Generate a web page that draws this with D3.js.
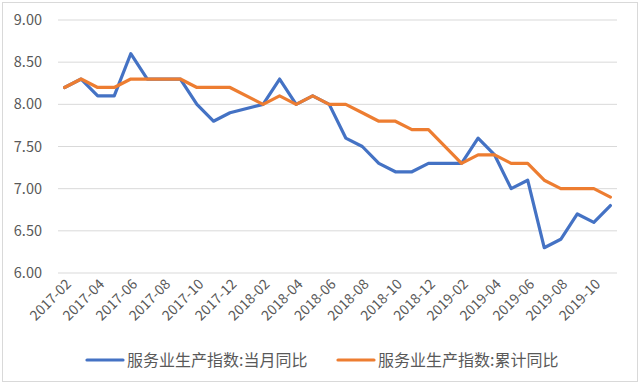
<!DOCTYPE html>
<html>
<head>
<meta charset="utf-8">
<script src="https://cdn.jsdelivr.net/npm/d3@7"></script>
<style>
  body { margin: 0; background: #fff; }
  text { font-family: "Noto Sans CJK SC", "Liberation Sans", sans-serif; fill: #595959; }
</style>
</head>
<body>
<div id="chart"></div>
<script>
// 月份（1月无单独数据，为空）
const months = [
  "2017-02","2017-03","2017-04","2017-05","2017-06","2017-07","2017-08","2017-09","2017-10","2017-11","2017-12",
  "2018-01","2018-02","2018-03","2018-04","2018-05","2018-06","2018-07","2018-08","2018-09","2018-10","2018-11","2018-12",
  "2019-01","2019-02","2019-03","2019-04","2019-05","2019-06","2019-07","2019-08","2019-09","2019-10","2019-11"
];
const monthly = [
  8.2, 8.3, 8.1, 8.1, 8.6, 8.3, 8.3, 8.3, 8.0, 7.8, 7.9,
  null, 8.0, 8.3, 8.0, 8.1, 8.0, 7.6, 7.5, 7.3, 7.2, 7.2, 7.3,
  null, 7.3, 7.6, 7.4, 7.0, 7.1, 6.3, 6.4, 6.7, 6.6, 6.8
];
const cumulative = [
  8.2, 8.3, 8.2, 8.2, 8.3, 8.3, 8.3, 8.3, 8.2, 8.2, 8.2,
  null, 8.0, 8.1, 8.0, 8.1, 8.0, 8.0, 7.9, 7.8, 7.8, 7.7, 7.7,
  null, 7.3, 7.4, 7.4, 7.3, 7.3, 7.1, 7.0, 7.0, 7.0, 6.9
];
const yTicks = [6.0, 6.5, 7.0, 7.5, 8.0, 8.5, 9.0];
const seriesNames = ["服务业生产指数:当月同比", "服务业生产指数:累计同比"];

const W = 640, H = 385;
const margin = { top: 20, right: 23, bottom: 112, left: 58 };
const width = W - margin.left - margin.right;
const height = H - margin.top - margin.bottom;

const colors = ["#4472C4", "#ED7D31"];

const svg = d3.select("#chart").append("svg")
  .attr("width", W).attr("height", H);

// 外框
svg.append("rect")
  .attr("x", 2.5).attr("y", 2.5)
  .attr("width", W - 5).attr("height", H - 6)
  .attr("fill", "#fff").attr("stroke", "#d9d9d9");

const g = svg.append("g").attr("transform", `translate(${margin.left},${margin.top})`);

const x = d3.scalePoint().domain(months).range([0, width]).padding(0.4);
const y = d3.scaleLinear().domain([6, 9]).range([height, 0]);

// 网格线
g.append("g")
  .selectAll("line")
  .data(yTicks)
  .join("line")
    .attr("x1", 0).attr("x2", width)
    .attr("y1", d => y(d)).attr("y2", d => y(d))
    .attr("stroke", "#d9d9d9").attr("stroke-width", 1);

// Y轴
const yAxis = g.append("g")
  .call(d3.axisLeft(y).tickValues(yTicks).tickFormat(d3.format(".2f")).tickSize(0).tickPadding(16));
yAxis.select(".domain").remove();
yAxis.selectAll("text").style("font-size", "14.5px").attr("fill", "#595959");

// X轴
const xAxis = g.append("g")
  .attr("transform", `translate(0,${height})`)
  .call(d3.axisBottom(x).tickValues(months.filter((d, i) => i % 2 === 0)).tickSize(0).tickPadding(0));
xAxis.select(".domain").remove();
xAxis.selectAll("text")
  .style("font-size", "14px")
  .attr("fill", "#595959")
  .attr("text-anchor", "end")
  .attr("dy", 0)
  .attr("transform", "translate(7,12) rotate(-45)");

// 折线
const line = d3.line()
  .x(d => x(d.m))
  .y(d => y(d.v));

[monthly, cumulative].forEach((vals, k) => {
  const pts = months.map((m, i) => ({ m, v: vals[i] })).filter(d => d.v !== null);
  g.append("path")
    .datum(pts)
    .attr("fill", "none")
    .attr("stroke", colors[k])
    .attr("stroke-width", 3.2)
    .attr("stroke-linejoin", "round")
    .attr("stroke-linecap", "round")
    .attr("d", line);
});

// 图例
const legendX = [87, 338];
seriesNames.forEach((name, k) => {
  const lg = svg.append("g").attr("transform", `translate(${legendX[k]},360)`);
  lg.append("line")
    .attr("x1", 0).attr("x2", 36)
    .attr("stroke", colors[k]).attr("stroke-width", 3.2).attr("stroke-linecap", "round");
  lg.append("text")
    .attr("x", 40).attr("y", 0).attr("dy", "0.35em")
    .style("font-size", "16px")
    .text(name);
});
</script>
</body>
</html>
